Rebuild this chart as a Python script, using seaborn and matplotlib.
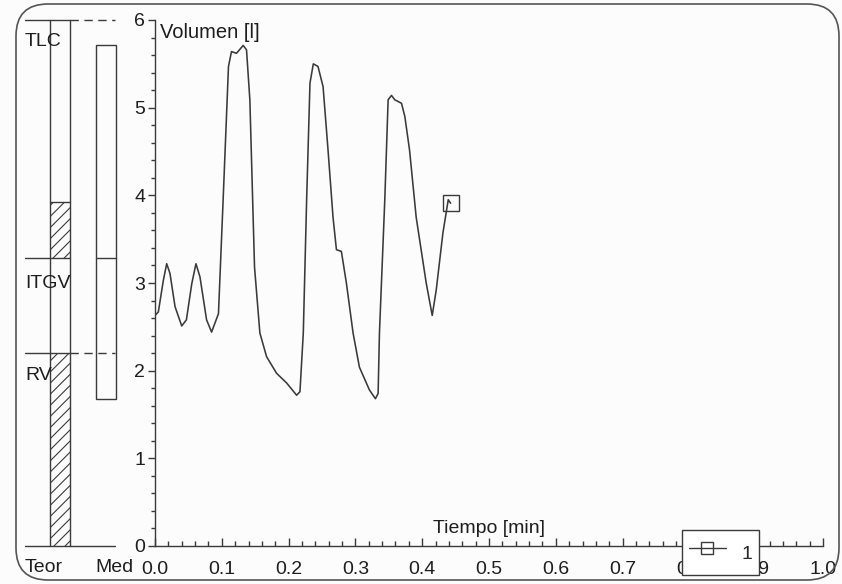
import numpy as np
import pandas as pd
import matplotlib
matplotlib.use("Agg")
import matplotlib.pyplot as plt
import matplotlib.transforms as mtransforms
from matplotlib.patches import FancyBboxPatch, Rectangle
from matplotlib.lines import Line2D
from matplotlib.ticker import MultipleLocator, FormatStrFormatter
import seaborn as sns

# Volume-time trace (minutes, litres)
t_min = [0.000, 0.005, 0.0125, 0.0175, 0.0224, 0.030, 0.040, 0.047, 0.055, 0.0613,
         0.0673, 0.0772, 0.0847, 0.095, 0.102, 0.110, 0.1145, 0.122, 0.132, 0.137,
         0.142, 0.149, 0.157, 0.167, 0.182, 0.197, 0.212, 0.217, 0.222, 0.227,
         0.232, 0.237, 0.244, 0.2516, 0.259, 0.2665, 0.2716, 0.279, 0.2865, 0.2965,
         0.306, 0.321, 0.330, 0.334, 0.336, 0.344, 0.349, 0.354, 0.359, 0.369,
         0.374, 0.381, 0.391, 0.406, 0.415, 0.421, 0.431, 0.439, 0.4425]
vol_l = [2.63, 2.67, 3.03, 3.22, 3.11, 2.73, 2.51, 2.58, 2.99, 3.22,
         3.07, 2.58, 2.44, 2.65, 3.95, 5.47, 5.64, 5.62, 5.71, 5.66,
         5.09, 3.18, 2.43, 2.16, 1.97, 1.86, 1.72, 1.76, 2.43, 3.95,
         5.28, 5.50, 5.47, 5.24, 4.52, 3.75, 3.38, 3.36, 3.00, 2.43,
         2.04, 1.78, 1.68, 1.74, 2.43, 3.95, 5.09, 5.14, 5.09, 5.05,
         4.90, 4.52, 3.75, 3.00, 2.63, 2.92, 3.57, 3.95, 3.91]

# Lung volumes: predicted (Teor) and measured (Med)
volume_names = ["TLC", "ITGV", "RV"]
teor_values = [6.00, 3.28, 2.20]
teor_itgv_upper = 3.92
med_values = [5.71, 3.28, 1.68]
column_labels = ["Teor", "Med"]
x_ticks = [0.0, 0.1, 0.2, 0.3, 0.4, 0.5, 0.6, 0.7, 0.8, 0.9, 1.0]
y_ticks = [0, 1, 2, 3, 4, 5, 6]
series_label = "1"

sns.set_style("white")
plt.rcParams["font.family"] = ["Liberation Sans", "DejaVu Sans"]
plt.rcParams["hatch.linewidth"] = 0.8

INK = "#3a3a3a"
TXT = "#1e1e1e"
FS = 14
W, H = 842, 584

fig = plt.figure(figsize=(W / 100, H / 100), dpi=100)
fig.patch.set_facecolor("#fcfcfc")

# rounded outer frame
frame = FancyBboxPatch((16, 4), 823, 576,
                       boxstyle="round,pad=0,rounding_size=32",
                       transform=mtransforms.IdentityTransform(),
                       facecolor="none", edgecolor="#555555", linewidth=1.2)
fig.add_artist(frame)

# ---- main volume/time axes ----
ax = fig.add_axes([155 / W, 38 / H, 668 / W, 526 / H])
ax.set_facecolor("none")
df = pd.DataFrame({"t": t_min, "v": vol_l})
sns.lineplot(data=df, x="t", y="v", ax=ax, sort=False, estimator=None,
             color=INK, linewidth=1.15)
ax.plot(t_min[-1], vol_l[-1], marker="s", ms=12, mfc="none", mec=INK,
        mew=1.0, linestyle="none")

ax.set_xlim(0, 1.0)
ax.set_ylim(0, 6)
ax.set_xlabel("")
ax.set_ylabel("")
ax.set_xticks(x_ticks)
ax.set_yticks(y_ticks)
ax.xaxis.set_major_formatter(FormatStrFormatter("%.1f"))
ax.xaxis.set_minor_locator(MultipleLocator(0.02))
ax.yaxis.set_minor_locator(MultipleLocator(0.2))
ax.tick_params(axis="x", which="both", bottom=True, top=False)
ax.tick_params(axis="y", which="both", left=True, right=False)
ax.tick_params(axis="x", which="major", direction="in", length=6, width=1,
               color=INK, labelsize=FS, labelcolor=TXT, pad=11)
ax.tick_params(axis="x", which="minor", direction="in", length=3.5, width=1,
               color=INK)
ax.tick_params(axis="y", which="major", direction="out", length=5, width=1,
               color=INK, labelsize=FS, labelcolor=TXT, pad=2)
ax.tick_params(axis="y", which="minor", direction="out", length=3, width=1,
               color=INK)
for s in ["top", "right"]:
    ax.spines[s].set_visible(False)
for s in ["left", "bottom"]:
    ax.spines[s].set_color(INK)
    ax.spines[s].set_linewidth(1.0)

ax.text(0.008, 0.977, "Volumen [l]", transform=ax.transAxes, ha="left",
        va="center", fontsize=14.5, color=TXT)
ax.text(0.416, 0.034, "Tiempo [min]", transform=ax.transAxes, ha="left",
        va="center", fontsize=FS, color=TXT)

handle = Line2D([], [], color=INK, lw=1.0, marker="s", ms=8, mfc="none",
                mec=INK, mew=1.0)
leg = ax.legend([handle], [series_label], loc="lower left",
                bbox_to_anchor=(682 / W, 9 / H), bbox_transform=fig.transFigure,
                fontsize=FS, frameon=True, fancybox=False, framealpha=1,
                edgecolor=INK, handlelength=1.9, handleheight=2.1,
                borderpad=0.35, handletextpad=0.8, borderaxespad=0)
leg.get_frame().set_linewidth(1.0)
leg.get_frame().set_facecolor("white")
leg.set_zorder(10)

# ---- lung volume columns on the left ----
axb = fig.add_axes([0, 38 / H, 155 / W, 526 / H])
axb.set_xlim(0, 155)
axb.set_ylim(0, 6)
axb.axis("off")

tlc_t, itgv_t, rv_t = teor_values
tlc_m, itgv_m, rv_m = med_values
teor_x0, teor_x1 = 50, 70
med_x0, med_x1 = 96, 116
kw = dict(color=INK, lw=1.0, clip_on=False)

# hatched predicted ranges
axb.add_patch(Rectangle((teor_x0, itgv_t), teor_x1 - teor_x0,
                        teor_itgv_upper - itgv_t, facecolor="none",
                        edgecolor=INK, hatch="///", linewidth=0))
axb.add_patch(Rectangle((teor_x0, 0), teor_x1 - teor_x0, rv_t,
                        facecolor="none", edgecolor=INK, hatch="///",
                        linewidth=0))
axb.plot([teor_x0, teor_x1], [teor_itgv_upper, teor_itgv_upper], **kw)
# Teor column sides
axb.plot([teor_x0, teor_x0], [0, tlc_t], **kw)
axb.plot([teor_x1, teor_x1], [0, tlc_t], **kw)
# reference levels
axb.plot([25, teor_x1], [tlc_t, tlc_t], **kw)
axb.plot([teor_x1, 115], [tlc_t, tlc_t], linestyle=(0, (6, 4)), **kw)
axb.plot([25, teor_x1], [itgv_t, itgv_t], **kw)
axb.plot([25, teor_x1], [rv_t, rv_t], **kw)
axb.plot([teor_x1, 115], [rv_t, rv_t], linestyle=(0, (6, 4)), **kw)
axb.plot([25, 115], [0, 0], **kw)
# measured column
axb.add_patch(Rectangle((med_x0, rv_m), med_x1 - med_x0, tlc_m - rv_m,
                        facecolor="none", edgecolor=INK, linewidth=1.0))
axb.plot([med_x0, med_x1], [itgv_m, itgv_m], **kw)

for name, yv in zip(volume_names, [5.75, 3.0, 1.94]):
    axb.text(25, yv, name, ha="left", va="center", fontsize=FS, color=TXT)
axb.text(25, -0.25, column_labels[0], ha="left", va="center", fontsize=FS,
         color=TXT)
axb.text(95, -0.25, column_labels[1], ha="left", va="center", fontsize=FS,
         color=TXT)

fig.savefig("out.png", dpi=100, facecolor=fig.get_facecolor())
